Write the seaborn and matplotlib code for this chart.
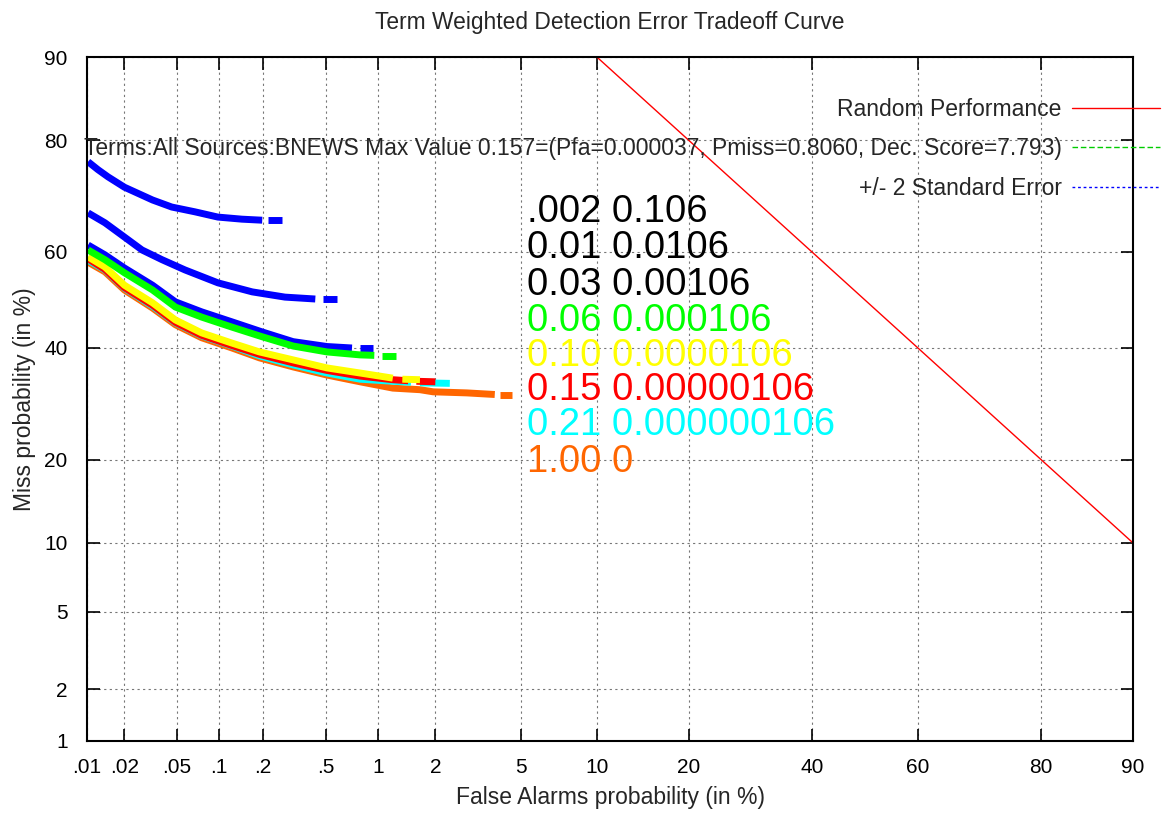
import numpy as np
import pandas as pd
import matplotlib
matplotlib.use("Agg")
import matplotlib.pyplot as plt
from matplotlib.lines import Line2D
import seaborn as sns
from statistics import NormalDist

# tick values (in %)
x_ticks = [0.01, 0.02, 0.05, 0.1, 0.2, 0.5, 1, 2, 5, 10, 20, 40, 60, 80, 90]
x_tick_labels = [".01", ".02", ".05", ".1", ".2", ".5", "1", "2", "5", "10", "20", "40", "60", "80", "90"]
y_ticks = [1, 2, 5, 10, 20, 40, 60, 80, 90]
y_tick_labels = ["1", "2", "5", "10", "20", "40", "60", "80", "90"]

# random performance line (Pfa %, Pmiss %)
random_pfa = [10, 90]
random_pmiss = [90, 10]

# DET curves (Pfa %, Pmiss %); last two points are the detached tail
blue1_pfa = [0.0102, 0.0123, 0.0148, 0.020, 0.033, 0.046, 0.068, 0.099, 0.145, 0.198, 0.215, 0.266]
blue1_pmiss = [76.7, 75.4, 74.2, 72.4, 70.1, 68.8, 67.9, 66.9, 66.5, 66.3, 66.3, 66.3]

blue2_pfa = [0.0102, 0.014, 0.020, 0.0274, 0.039, 0.0575, 0.099, 0.17, 0.278, 0.43, 0.48, 0.58]
blue2_pmiss = [67.7, 65.8, 63.0, 60.4, 58.4, 56.3, 53.6, 51.7, 50.6, 50.2, 50.1, 50.1]

blue3_pfa = [0.0102, 0.014, 0.020, 0.033, 0.049, 0.076, 0.124, 0.198, 0.313, 0.506, 0.71, 0.79, 0.93]
blue3_pmiss = [61.4, 59.4, 56.7, 53.1, 49.6, 47.5, 45.4, 43.3, 41.3, 40.3, 40.0, 40.0, 40.0]

green_pfa = [0.0102, 0.014, 0.020, 0.033, 0.049, 0.076, 0.124, 0.198, 0.313, 0.506, 0.79, 0.95, 1.05, 1.25]
green_pmiss = [60.4, 58.4, 55.7, 52.1, 48.5, 46.4, 44.3, 42.3, 40.4, 39.2, 38.6, 38.5, 38.4, 38.4]

yellow_pfa = [0.0102, 0.014, 0.020, 0.033, 0.049, 0.076, 0.124, 0.19, 0.313, 0.506, 0.79, 1.20, 1.35, 1.67]
yellow_pmiss = [59.0, 56.9, 53.1, 49.4, 45.8, 43.1, 41.0, 39.2, 37.6, 36.0, 35.0, 34.0, 33.8, 33.7]

red_pfa = [0.0102, 0.014, 0.020, 0.033, 0.049, 0.076, 0.124, 0.19, 0.313, 0.506, 0.79, 1.20, 1.45, 1.60, 2.0]
red_pmiss = [58.6, 56.4, 52.6, 48.9, 45.3, 42.6, 40.5, 38.7, 37.0, 35.5, 34.4, 33.7, 33.5, 33.4, 33.3]

cyan_pfa = [0.0102, 0.014, 0.020, 0.033, 0.049, 0.076, 0.124, 0.19, 0.313, 0.506, 0.79, 1.20, 1.50, 1.67, 2.36]
cyan_pmiss = [58.3, 56.3, 52.5, 48.7, 45.2, 42.5, 40.4, 38.4, 36.6, 35.0, 33.8, 33.4, 33.2, 33.1, 33.0]

orange_pfa = [0.0102, 0.014, 0.020, 0.033, 0.049, 0.076, 0.124, 0.19, 0.313, 0.506, 0.79, 1.20, 1.67, 1.95, 2.85, 3.84, 4.05, 4.58]
orange_pmiss = [57.9, 55.9, 52.1, 48.3, 44.8, 42.1, 40.0, 38.0, 36.2, 34.6, 33.3, 32.1, 31.8, 31.4, 31.2, 30.9, 30.8, 30.8]

# annotation text block
note_labels = [".002 0.106", "0.01 0.0106", "0.03 0.00106", "0.06 0.000106",
               "0.10 0.0000106", "0.15 0.00000106", "0.21 0.000000106", "1.00 0"]
note_colors = ["black", "black", "black", "#00ff00", "#ffff00", "#ff0000", "#00ffff", "#ff6600"]

legend_labels = ["Random Performance",
                 "Terms:All Sources:BNEWS Max Value 0.157=(Pfa=0.000037, Pmiss=0.8060, Dec. Score=7.793)",
                 "+/- 2 Standard Error"]

_nd = NormalDist()
_ppf = np.vectorize(_nd.inv_cdf, otypes=[float])
_cdf = np.vectorize(_nd.cdf, otypes=[float])


def probit(p):
    p = np.clip(np.asarray(p, dtype=float) / 100.0, 1e-9, 1 - 1e-9)
    return _ppf(p)


def inv_probit(z):
    return _cdf(np.asarray(z, dtype=float)) * 100.0


sns.set_style("ticks")
plt.rcParams["font.family"] = ["Liberation Sans", "DejaVu Sans"]

fig = plt.figure(figsize=(11.69, 8.14), dpi=100)
ax = fig.add_axes([87 / 1169, 1 - 741 / 814, 1046 / 1169, 684 / 814])
ax.set_xscale("function", functions=(probit, inv_probit))
ax.set_yscale("function", functions=(probit, inv_probit))

# curves in drawing order
curves = [
    (blue1_pfa, blue1_pmiss, "#0000ff"),
    (blue2_pfa, blue2_pmiss, "#0000ff"),
    (blue3_pfa, blue3_pmiss, "#0000ff"),
    (orange_pfa, orange_pmiss, "#ff6600"),
    (cyan_pfa, cyan_pmiss, "#00ffff"),
    (red_pfa, red_pmiss, "#ff0000"),
    (yellow_pfa, yellow_pmiss, "#ffff00"),
    (green_pfa, green_pmiss, "#00ff00"),
]
for pfa, pmiss, color in curves:
    df = pd.DataFrame({"pfa": pfa, "pmiss": pmiss})
    sns.lineplot(data=df.iloc[:-2], x="pfa", y="pmiss", color=color, lw=5,
                 estimator=None, sort=False, ax=ax, solid_capstyle="butt",
                 solid_joinstyle="round")
    sns.lineplot(data=df.iloc[-2:], x="pfa", y="pmiss", color=color, lw=5,
                 estimator=None, sort=False, ax=ax, solid_capstyle="butt")

sns.lineplot(x=random_pfa, y=random_pmiss, color="#ff0000", lw=1.0, ax=ax)

ax.set_xlim(0.01, 90)
ax.set_ylim(1, 90)
ax.set_xticks(x_ticks)
ax.set_xticklabels(x_tick_labels)
ax.set_yticks(y_ticks)
ax.set_yticklabels(y_tick_labels)
ax.minorticks_off()
ax.tick_params(direction="in", length=9, width=1.2, top=True, right=True,
               labelsize=15, colors="black")
ax.tick_params(axis="x", pad=12)
ax.tick_params(axis="y", pad=14)
ax.grid(True, linestyle=(0, (2, 3)), color="#777777", lw=0.8)
for s in ax.spines.values():
    s.set_linewidth(1.5)
    s.set_color("black")

ax.set_xlabel("False Alarms probability (in %)", fontsize=16.5, labelpad=7)
ax.set_ylabel("Miss probability (in %)", fontsize=16.5, labelpad=6)
ax.set_title("Term Weighted Detection Error Tradeoff Curve", fontsize=16.4, pad=20)

baselines = [222, 258, 295, 331, 366, 400, 435, 472]
for txt, col, b in zip(note_labels, note_colors, baselines):
    ax.text(440 / 1046, (741 - b) / 684, txt, color=col, fontsize=27.5,
            transform=ax.transAxes, ha="left", va="baseline")

handles = [Line2D([], [], color="#ff0000", lw=1.0),
           Line2D([], [], color="#00cc00", lw=1.0, linestyle=(0, (4, 2))),
           Line2D([], [], color="#0000ff", lw=1.0, linestyle=(0, (2, 2)))]
ax.legend(handles, legend_labels, loc="upper right", bbox_to_anchor=(1160 / 1169, 1 - 98 / 814),
          bbox_transform=fig.transFigure, frameon=False, markerfirst=False,
          fontsize=16.5, handlelength=3.85, handletextpad=0.44, labelspacing=0.71,
          borderaxespad=0, borderpad=0)

fig.savefig("out.png", dpi=100)
